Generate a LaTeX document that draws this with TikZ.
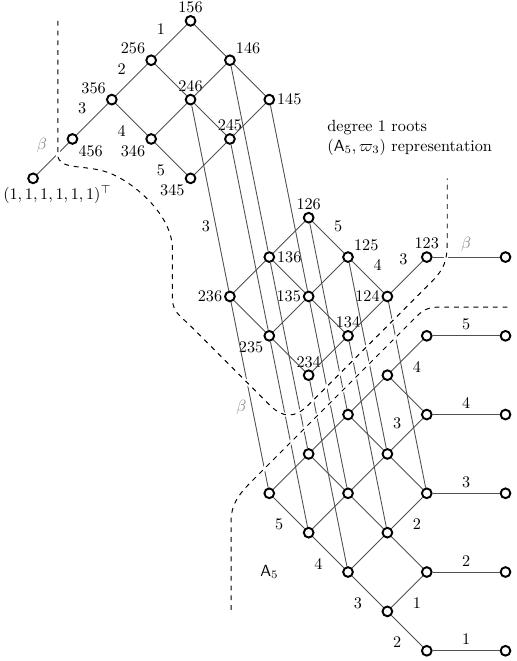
\documentclass[tikz,border=0pt]{standalone}
\usepackage{amsmath,amssymb}
\usepackage{tikz}
\definecolor{edgegray}{RGB}{80,80,80}
\definecolor{betagray}{RGB}{128,128,128}

\begin{document}
\begin{tikzpicture}[x=0.854cm, y=-0.854cm,
		wt/.style={circle, draw, fill=white, line width=1.2pt, inner sep=0pt, minimum size=6pt},
		lbl/.style={inner sep=1pt},
		ln/.style={draw=edgegray, line width=0.55pt},
		bt/.style={text=betagray},
		bnd/.style={dashed, line width=0.6pt, preaction={draw=white, solid, line width=2.5pt}}]
		\useasboundingbox (-0.84,-0.53) rectangle (12.27,16.26);
		\node[wt, label={[lbl]above:156}] (n156) at (4,0) {};
		\node[wt, label={[lbl]above left:256}] (n256) at (3,1) {};
		\node[wt, label={[lbl]above right:146}] (n146) at (5,1) {};
		\node[wt, label={[lbl]above left:356}] (n356) at (2,2) {};
		\node[wt, label={[lbl]above:246}] (n246) at (4,2) {};
		\node[wt, label={[lbl]right:145}] (n145) at (6,2) {};
		\node[wt, label={[lbl]below right:456}] (n456) at (1,3) {};
		\node[wt, label={[lbl]below left:346}] (n346) at (3,3) {};
		\node[wt, label={[lbl]above:245}] (n245) at (5,3) {};
		\node[wt, label={[lbl]below left:345}] (n345) at (4,4) {};
		\node[wt, label={[lbl, xshift=15pt]below:$(1,1,1,1,1,1)^\top$}] (vec) at (0,4) {};
		\node[wt, label={[lbl]above:126}] (n126) at (7,5) {};
		\node[wt, label={[lbl]right:136}] (n136) at (6,6) {};
		\node[wt, label={[lbl]above right:125}] (n125) at (8,6) {};
		\node[wt, label={[lbl]above:123}] (n123) at (10,6) {};
		\node[wt, label={[lbl]left:236}] (n236) at (5,7) {};
		\node[wt, label={[lbl]left:135}] (n135) at (7,7) {};
		\node[wt, label={[lbl]left:124}] (n124) at (9,7) {};
		\node[wt, label={[lbl]below left:235}] (n235) at (6,8) {};
		\node[wt, label={[lbl]above:134}] (n134) at (8,8) {};
		\node[wt, label={[lbl]above:234}] (n234) at (7,9) {};
		\node[wt] (b8) at (10,8) {};
		\node[wt] (b9) at (9,9) {};
		\node[wt] (b10a) at (8,10) {};
		\node[wt] (b10b) at (10,10) {};
		\node[wt] (b11a) at (7,11) {};
		\node[wt] (b11b) at (9,11) {};
		\node[wt] (b12a) at (6,12) {};
		\node[wt] (b12b) at (8,12) {};
		\node[wt] (b12c) at (10,12) {};
		\node[wt] (b13a) at (7,13) {};
		\node[wt] (b13b) at (9,13) {};
		\node[wt] (b14a) at (8,14) {};
		\node[wt] (b14b) at (10,14) {};
		\node[wt] (b15) at (9,15) {};
		\node[wt] (b16) at (10,16) {};
		\node[wt] (s6) at (12,6) {};
		\node[wt] (s8) at (12,8) {};
		\node[wt] (s10) at (12,10) {};
		\node[wt] (s12) at (12,12) {};
		\node[wt] (s14) at (12,14) {};
		\node[wt] (s16) at (12,16) {};
		\node[anchor=west, align=left, inner sep=0pt] (caption) at (7.47,2.97) {degree 1 roots\\$(\mathsf{A}_5,\varpi_3)$ representation};
		\node (alab) at (6,14) {$\mathsf{A}_5$};
		\draw[ln] (n156) -- node[above left]{1} (n256);
		\draw[ln] (n156) -- (n146);
		\draw[ln] (n256) -- node[above left]{2} (n356);
		\draw[ln] (n256) -- (n246);
		\draw[ln] (n146) -- (n246);
		\draw[ln] (n146) -- (n145);
		\draw[ln] (n356) -- node[above left]{3} (n456);
		\draw[ln] (n356) -- node[below left]{4} (n346);
		\draw[ln] (n246) -- (n346);
		\draw[ln] (n246) -- (n245);
		\draw[ln] (n145) -- (n245);
		\draw[ln] (n346) -- node[below left]{5} (n345);
		\draw[ln] (n245) -- (n345);
		\draw[ln] (n456) -- node[above left, bt]{$\beta$} (vec);
		\draw[ln] (n246) -- node[left, pos=0.65]{3} (n236);
		\draw[ln] (n146) -- (n136);
		\draw[ln] (n145) -- (n135);
		\draw[ln] (n245) -- (n235);
		\draw[ln] (n126) -- (n136);
		\draw[ln] (n126) -- node[above right]{5} (n125);
		\draw[ln] (n136) -- (n236);
		\draw[ln] (n136) -- (n135);
		\draw[ln] (n125) -- (n135);
		\draw[ln] (n125) -- node[above right]{4} (n124);
		\draw[ln] (n124) -- node[above left, pos=0.7]{3} (n123);
		\draw[ln] (n123) -- node[above, bt]{$\beta$} (s6);
		\draw[ln] (n236) -- (n235);
		\draw[ln] (n135) -- (n235);
		\draw[ln] (n135) -- (n134);
		\draw[ln] (n124) -- (n134);
		\draw[ln] (n235) -- (n234);
		\draw[ln] (n134) -- (n234);
		\draw[ln] (n236) -- node[left, pos=0.57, bt]{$\beta$} (b12a);
		\draw[ln] (n126) -- (b10a);
		\draw[ln] (n136) -- (b11a);
		\draw[ln] (n125) -- (b11b);
		\draw[ln] (n135) -- (b12b);
		\draw[ln] (n124) -- (b12c);
		\draw[ln] (n235) -- (b13a);
		\draw[ln] (n134) -- (b13b);
		\draw[ln] (n234) -- (b14a);
		\draw[ln] (b8) -- node[above]{5} (s8);
		\draw[ln] (b8) -- node[below right]{4} (b9);
		\draw[ln] (b9) -- (b10a);
		\draw[ln] (b9) -- (b10b);
		\draw[ln] (b10b) -- node[above]{4} (s10);
		\draw[ln] (b10a) -- (b11a);
		\draw[ln] (b10a) -- (b11b);
		\draw[ln] (b10b) -- node[above left]{3} (b11b);
		\draw[ln] (b11a) -- (b12a);
		\draw[ln] (b11a) -- (b12b);
		\draw[ln] (b11b) -- (b12b);
		\draw[ln] (b11b) -- (b12c);
		\draw[ln] (b12c) -- node[above]{3} (s12);
		\draw[ln] (b12a) -- node[below left]{5} (b13a);
		\draw[ln] (b12b) -- (b13a);
		\draw[ln] (b12b) -- (b13b);
		\draw[ln] (b12c) -- node[below right]{2} (b13b);
		\draw[ln] (b13a) -- node[below left]{4} (b14a);
		\draw[ln] (b13b) -- (b14a);
		\draw[ln] (b13b) -- (b14b);
		\draw[ln] (b14b) -- node[above]{2} (s14);
		\draw[ln] (b14a) -- node[below left]{3} (b15);
		\draw[ln] (b14b) -- node[below right]{1} (b15);
		\draw[ln] (b15) -- node[below left]{2} (b16);
		\draw[ln] (b16) -- node[above]{1} (s16);
		\draw[bnd] (0.63,0) -- (0.63,3.4) .. controls (0.63,3.8) and (1.3,3.64) .. (1.9,3.85) .. controls (2.5,4.06) and (3.54,4.9) .. (3.54,5.8) -- (3.54,7.05) .. controls (3.54,7.4) and (3.75,7.5) .. (4,7.75) -- (6,9.75) .. controls (6.35,10.1) and (6.65,10.1) .. (7,9.75) -- (10.1,6.65) .. controls (10.45,6.3) and (10.52,6.1) .. (10.52,5.6) -- (10.52,4);
		\draw[bnd] (12.05,7.27) -- (10.35,7.27) .. controls (10.1,7.27) and (9.95,7.3) .. (9.75,7.5) -- (5.55,11.7) .. controls (5.2,12.05) and (5.03,12.3) .. (5.03,12.7) -- (5.03,15.02);
	\end{tikzpicture}
\end{document}
